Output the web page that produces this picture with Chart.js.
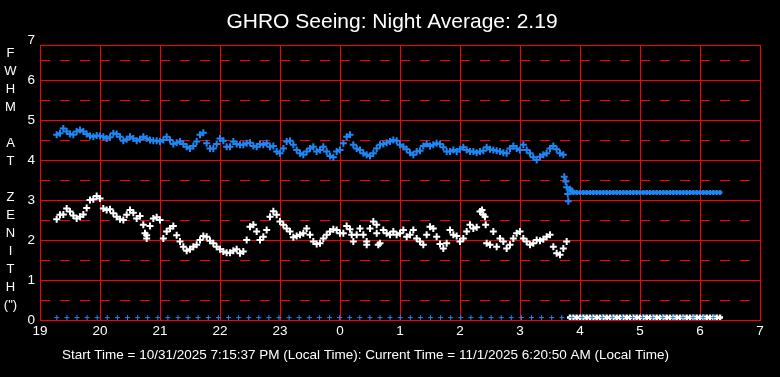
<!DOCTYPE html>
<html>
<head>
<meta charset="utf-8">
<script src="https://cdn.jsdelivr.net/npm/chart.js@4.4.1/dist/chart.umd.min.js"></script>
<style>
  html, body { margin: 0; padding: 0; background: #000; }
  #wrap { position: relative; width: 780px; height: 377px; }
</style>
</head>
<body>
<div id="wrap"><canvas id="seeingChart"></canvas></div>
<script>
// x축: 19시 ~ 다음날 7시 (자정 이후는 +24 로 씀)
const hourTicks = [19, 20, 21, 22, 23, 24, 25, 26, 27, 28, 29, 30, 31];
const yTicks = [0, 1, 2, 3, 4, 5, 6, 7];
const yHalfTicks = [0.5, 1.5, 2.5, 3.5, 4.5, 5.5, 6.5];

const titleText = 'GHRO Seeing: Night Average: 2.19';
const footerText = 'Start Time = 10/31/2025 7:15:37 PM (Local Time): Current Time = 11/1/2025 6:20:50 AM (Local Time)';
const yTitleLines = ['F', 'W', 'H', 'M', '', 'A', 'T', '', 'Z', 'E', 'N', 'I', 'T', 'H', '(")'];

// 측정 간격 (분) - 첫 측정 시각부터
const startHour = 19.2778;
const stepMin = 10 / 3;

// 파란 점 (FWHM)
const blueSeeing = [
  4.63, 4.67, 4.79, 4.71, 4.65, 4.63, 4.71, 4.75, 4.71, 4.65, 4.6, 4.58, 4.61, 4.6, 4.58, 4.54,
  4.57, 4.67, 4.65, 4.58, 4.48, 4.52, 4.58, 4.54, 4.48, 4.52, 4.58, 4.54, 4.5, 4.48, 4.48,
  4.46, 4.5, 4.58, 4.5, 4.4, 4.43, 4.46, 4.4, 4.33, 4.29, 4.35, 4.46, 4.63, 4.68, 4.42, 4.29,
  4.29, 4.4, 4.54, 4.48, 4.33, 4.33, 4.46, 4.4, 4.38, 4.38, 4.42, 4.43, 4.35, 4.33, 4.4, 4.38, 4.42,
  4.33, 4.35, 4.21, 4.17, 4.29, 4.46, 4.48, 4.38, 4.25, 4.17, 4.13, 4.21, 4.29, 4.33, 4.21, 4.25,
  4.33, 4.21, 4.1, 4.07, 4.21, 4.25, 4.42, 4.58, 4.63, 4.38, 4.29, 4.25, 4.17, 4.13, 4.1, 4.17, 4.29,
  4.38, 4.4, 4.43, 4.46, 4.5, 4.48, 4.38, 4.33, 4.27, 4.18, 4.13, 4.21, 4.23, 4.35, 4.4, 4.35,
  4.38, 4.42, 4.4, 4.32, 4.21, 4.21, 4.25, 4.21, 4.27, 4.32, 4.25, 4.21, 4.21, 4.18, 4.21, 4.23, 4.32,
  4.27, 4.25, 4.23, 4.21, 4.18, 4.17, 4.29, 4.35, 4.29, 4.25, 4.38, 4.25, 4.17, 4.07, 4.0, 4.08,
  4.13, 4.17, 4.29, 4.35, 4.27, 4.17, 4.13
];
// 새벽 급락 구간 [시각, 값]
const blueDrop = [[3.738, 3.58], [3.762, 3.46], [3.778, 3.32], [3.795, 3.15], [3.805, 2.97], [3.833, 3.27], [3.862, 3.23]];
const blueFlatStartIdx = 155;
const blueFlat = [
  3.19, 3.19, 3.19, 3.19, 3.19, 3.19, 3.19, 3.19, 3.19, 3.19, 3.19, 3.19, 3.19, 3.19, 3.19,
  3.19, 3.19, 3.19, 3.19, 3.19, 3.19, 3.19, 3.19, 3.19, 3.19, 3.19, 3.19, 3.19, 3.19, 3.19,
  3.19, 3.19, 3.19, 3.19, 3.19, 3.19, 3.19, 3.19, 3.19, 3.19, 3.19, 3.19, 3.19, 3.19, 3.19
];

// 흰 점
const whiteSeeing = [
  2.52, 2.63, 2.64, 2.79, 2.71, 2.61, 2.54, 2.58, 2.64, 2.8, 3.0, 3.02, 3.1, 3.04, 2.79, 2.75,
  2.77, 2.67, 2.58, 2.52, 2.5, 2.63, 2.75, 2.68, 2.54, 2.6, 2.38, 2.12, 2.35, 2.54, 2.57,
  2.5, 2.04, 2.21, 2.29, 2.35, 2.12, 1.96, 1.83, 1.73, 1.77, 1.83, 1.88, 2.0, 2.1, 2.08, 1.98,
  1.92, 1.83, 1.77, 1.71, 1.68, 1.68, 1.73, 1.77, 1.67, 1.71, 2.0, 2.33, 2.38, 2.21, 2.0, 2.08, 2.25,
  2.58, 2.72, 2.63, 2.46, 2.38, 2.29, 2.21, 2.07, 2.1, 2.13, 2.17, 2.29, 2.13, 1.96, 1.9, 1.92,
  2.04, 2.13, 2.21, 2.27, 2.25, 2.17, 2.17, 2.35, 2.27, 1.96, 2.13, 2.29, 2.13, 1.96, 2.29, 2.46, 2.38,
  1.92, 2.25, 2.17, 2.13, 2.21, 2.13, 2.17, 2.25, 2.08, 2.13, 2.25, 2.04, 1.96, 1.88, 2.13, 2.33,
  2.29, 2.08, 1.9, 1.79, 1.92, 2.25, 2.13, 2.1, 1.96, 2.04, 2.21, 2.38, 2.29, 2.32, 2.71, 2.63, 1.92,
  1.88, 2.21, 1.83, 2.04, 1.96, 1.79, 1.88, 2.04, 2.17, 2.21, 2.04, 1.96, 1.88, 1.92, 2.0, 1.98,
  2.02, 2.08, 2.13, 1.83, 1.67, 1.63, 1.79, 1.96
];
// 흩어진 흰 점 [시각, 값]
const whiteStray = [
  [20.778, 2.04], [20.75, 2.17], [0.195, 2.13], [0.445, 1.88], [0.612, 2.17], [0.638, 1.88],
  [2.367, 2.75], [2.417, 2.58], [2.428, 2.38]
];
const whiteZeroStartIdx = 154;
const whiteZero = [
  0.06, 0.06, 0.06, 0.06, 0.06, 0.06, 0.06, 0.06, 0.06, 0.06, 0.06, 0.06, 0.06, 0.06, 0.06, 0.06,
  0.06, 0.06, 0.06, 0.06, 0.06, 0.06, 0.06, 0.06, 0.06, 0.06, 0.06, 0.06, 0.06, 0.06, 0.06, 0.06,
  0.06, 0.06, 0.06, 0.06, 0.06, 0.06, 0.06, 0.06, 0.06, 0.06, 0.06, 0.06, 0.06, 0.06
];

// 바닥 파란 표시 (10분 간격)
const zeroStartHour = 19.28;
const zeroStepMin = 10.1;
const blueZero = [
  0.06, 0.06, 0.06, 0.06, 0.06, 0.06, 0.06, 0.06, 0.06, 0.06, 0.06, 0.06, 0.06, 0.06, 0.06, 0.06, 0.06,
  0.06, 0.06, 0.06, 0.06, 0.06, 0.06, 0.06, 0.06, 0.06, 0.06, 0.06, 0.06, 0.06, 0.06, 0.06, 0.06,
  0.06, 0.06, 0.06, 0.06, 0.06, 0.06, 0.06, 0.06, 0.06, 0.06, 0.06, 0.06, 0.06, 0.06, 0.06, 0.06,
  0.06, 0.06, 0.06, 0.06, 0.06, 0.06, 0.06, 0.06, 0.06, 0.06, 0.06, 0.06, 0.06, 0.06, 0.06, 0.06, 0.06
];

const BLUE = '#1e87f5';
const RED = '#ff0000';
const FONT = '"Liberation Sans", Arial, sans-serif';

const at = (i) => startHour + i * stepMin / 60;
const toAxis = (h) => (h < 12 ? h + 24 : h);

const bluePoints = [
  ...blueSeeing.map((v, i) => ({x: at(i), y: v})),
  ...blueDrop.map(([h, v]) => ({x: toAxis(h), y: v})),
];
const blueFlatPoints = blueFlat.map((v, i) => ({x: at(blueFlatStartIdx + i), y: v}));
const whitePoints = [
  ...whiteSeeing.map((v, i) => ({x: at(i), y: v})),
  ...whiteStray.map(([h, v]) => ({x: toAxis(h), y: v})),
];
const whiteZeroPoints = whiteZero.map((v, i) => ({x: at(whiteZeroStartIdx + i), y: v}));
const zeroPoints = blueZero.map((v, i) => ({x: zeroStartHour + i * zeroStepMin / 60, y: v}));

// 제목 + 0.5 점선 + 윗 테두리 + 세로 축 제목 + 아래 시간 문구
const frameAndText = {
  id: 'frameAndText',
  beforeDatasetsDraw(chart) {
    const {ctx, chartArea: a} = chart;
    const yScale = chart.scales.y;
    ctx.save();
    ctx.strokeStyle = RED;
    ctx.lineWidth = 1;
    // 점선 (0.5 간격)
    ctx.setLineDash([10, 10]);
    ctx.beginPath();
    yHalfTicks.forEach((v) => {
      const py = Math.round(yScale.getPixelForValue(v)) + 0.5;
      ctx.moveTo(a.left, py);
      ctx.lineTo(a.right, py);
    });
    ctx.stroke();
    // 윗 테두리
    ctx.setLineDash([]);
    ctx.beginPath();
    ctx.moveTo(a.left, Math.round(a.top) + 0.5);
    ctx.lineTo(a.right, Math.round(a.top) + 0.5);
    ctx.stroke();
    ctx.restore();
  },
  afterDraw(chart) {
    const ctx = chart.ctx;
    ctx.save();
    ctx.fillStyle = '#fff';
    ctx.textBaseline = 'middle';
    ctx.textAlign = 'center';
    ctx.font = '21px ' + FONT;
    ctx.fillText(titleText, 392, 22);
    ctx.font = '13px ' + FONT;
    yTitleLines.forEach((s, i) => ctx.fillText(s, 10.5, 53 + i * 18));
    ctx.textAlign = 'left';
    ctx.font = '13.5px ' + FONT;
    ctx.fillText(footerText, 62, 355);
    ctx.restore();
  }
};

const pointSet = (label, data, color, radius, width, order) => ({
  label,
  data,
  yAxisID: 'y',
  pointStyle: 'cross',
  pointRadius: radius,
  pointBorderWidth: width,
  borderColor: color,
  backgroundColor: color,
  order,
});

const ctx = document.getElementById('seeingChart').getContext('2d');

new Chart(ctx, {
  type: 'scatter',
  data: {
    datasets: [
      pointSet('zero', zeroPoints, BLUE, 2.5, 1, 0),
      pointSet('blue', bluePoints, BLUE, 3.5, 2, 1),
      pointSet('blueFlat', blueFlatPoints, BLUE, 2.5, 2.5, 1),
      pointSet('white', whitePoints, '#ffffff', 3.5, 2, 2),
      pointSet('whiteZero', whiteZeroPoints, '#ffffff', 3, 2.5, 3),
    ],
  },
  options: {
    responsive: true,
    maintainAspectRatio: false,
    animation: false,
    events: [],
    layout: {padding: {top: 45, left: 0, right: 20, bottom: 0}},
    plugins: {
      legend: {display: false},
      tooltip: {enabled: false},
      title: {display: false},
    },
    scales: {
      x: {
        type: 'linear',
        min: 19,
        max: 31,
        afterBuildTicks: (s) => { s.ticks = hourTicks.map((v) => ({value: v})); },
        afterFit: (s) => { s.height = 57; },
        ticks: {
          color: '#ffffff',
          font: {family: FONT, size: 13.5},
          padding: 3,
          maxRotation: 0,
          autoSkip: false,
          callback: (v) => String(v % 24),
        },
        grid: {color: RED, lineWidth: 1, drawTicks: false},
        border: {color: RED, width: 1},
      },
      y: {
        position: 'left',
        min: 0,
        max: 6.875,
        afterBuildTicks: (s) => { s.ticks = yTicks.map((v) => ({value: v})); },
        afterFit: (s) => { s.width = 40; },
        ticks: {
          color: '#ffffff',
          font: {family: FONT, size: 13.5},
          padding: 5,
          autoSkip: false,
        },
        grid: {
          color: (c) => (c.tick && c.tick.value > 6.875 ? 'rgba(0,0,0,0)' : RED),
          lineWidth: 1,
          drawTicks: false,
        },
        border: {color: RED, width: 1},
      },
    },
  },
  plugins: [frameAndText],
});
</script>
</body>
</html>
